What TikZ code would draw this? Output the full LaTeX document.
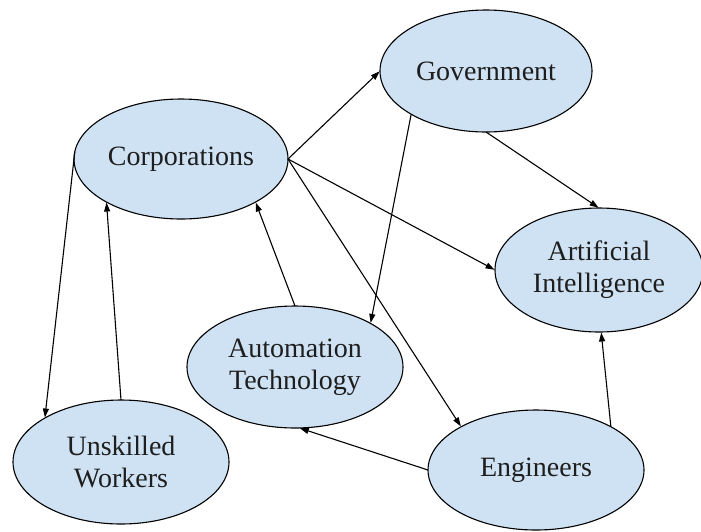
\documentclass[tikz,border=0pt]{standalone}
\usepackage{fontspec}
\setmainfont{Liberation Serif}
\usetikzlibrary{shapes.geometric,arrows.meta}
\definecolor{bubble}{HTML}{CFE2F3}
\definecolor{ink}{HTML}{1E1E1E}
\tikzset{
  actor/.style={ellipse, draw=black, line width=1.1pt, fill=bubble,
    inner sep=0pt, outer sep=0pt, align=center, text=ink,
    font=\rmfamily\fontsize{28}{32}\selectfont},
  link/.style={draw=black, line width=1.1pt,
    -{Triangle[length=9pt,width=6pt]}, shorten >=0.5pt}
}
\begin{document}
\begin{tikzpicture}[x=1pt,y=-1pt]
  \useasboundingbox (0,0) rectangle (701,531);
  \clip (0,0) rectangle (701,531);
  \fill[white] (0,0) rectangle (701,531);

  % actors
  \node[actor, minimum width=214pt, minimum height=120pt] (corp) at (181,159) {Corporations};
  \node[actor, minimum width=212pt, minimum height=122pt] (gov)  at (486,71)  {Government};
  \node[actor, minimum width=208pt, minimum height=124pt] (ai)   at (599,270) {Artificial\\Intelligence};
  \node[actor, minimum width=216pt, minimum height=122pt] (auto) at (295,367) {Automation\\Technology};
  \node[actor, minimum width=216pt, minimum height=120pt] (eng)  at (536,470) {Engineers};
  \node[actor, minimum width=216pt, minimum height=124pt] (unsk) at (121,462) {Unskilled\\Workers};

  % influences
  \draw[link] (corp.0)   -- (gov.180);
  \draw[link] (corp.0)   -- (ai.180);
  \draw[link] (corp.0)   -- (eng.150);
  \draw[link] (corp.176) -- (unsk.150);
  \draw[link] (unsk.90)  -- (corp.210);
  \draw[link] (auto.90)  -- (corp.330);
  \draw[link] (gov.210)  -- (auto.30);
  \draw[link] (gov.270)  -- (ai.90);
  \draw[link] (eng.180)  -- (auto.-86);
  \draw[link] (eng.30)   -- (ai.-88);
\end{tikzpicture}
\end{document}
